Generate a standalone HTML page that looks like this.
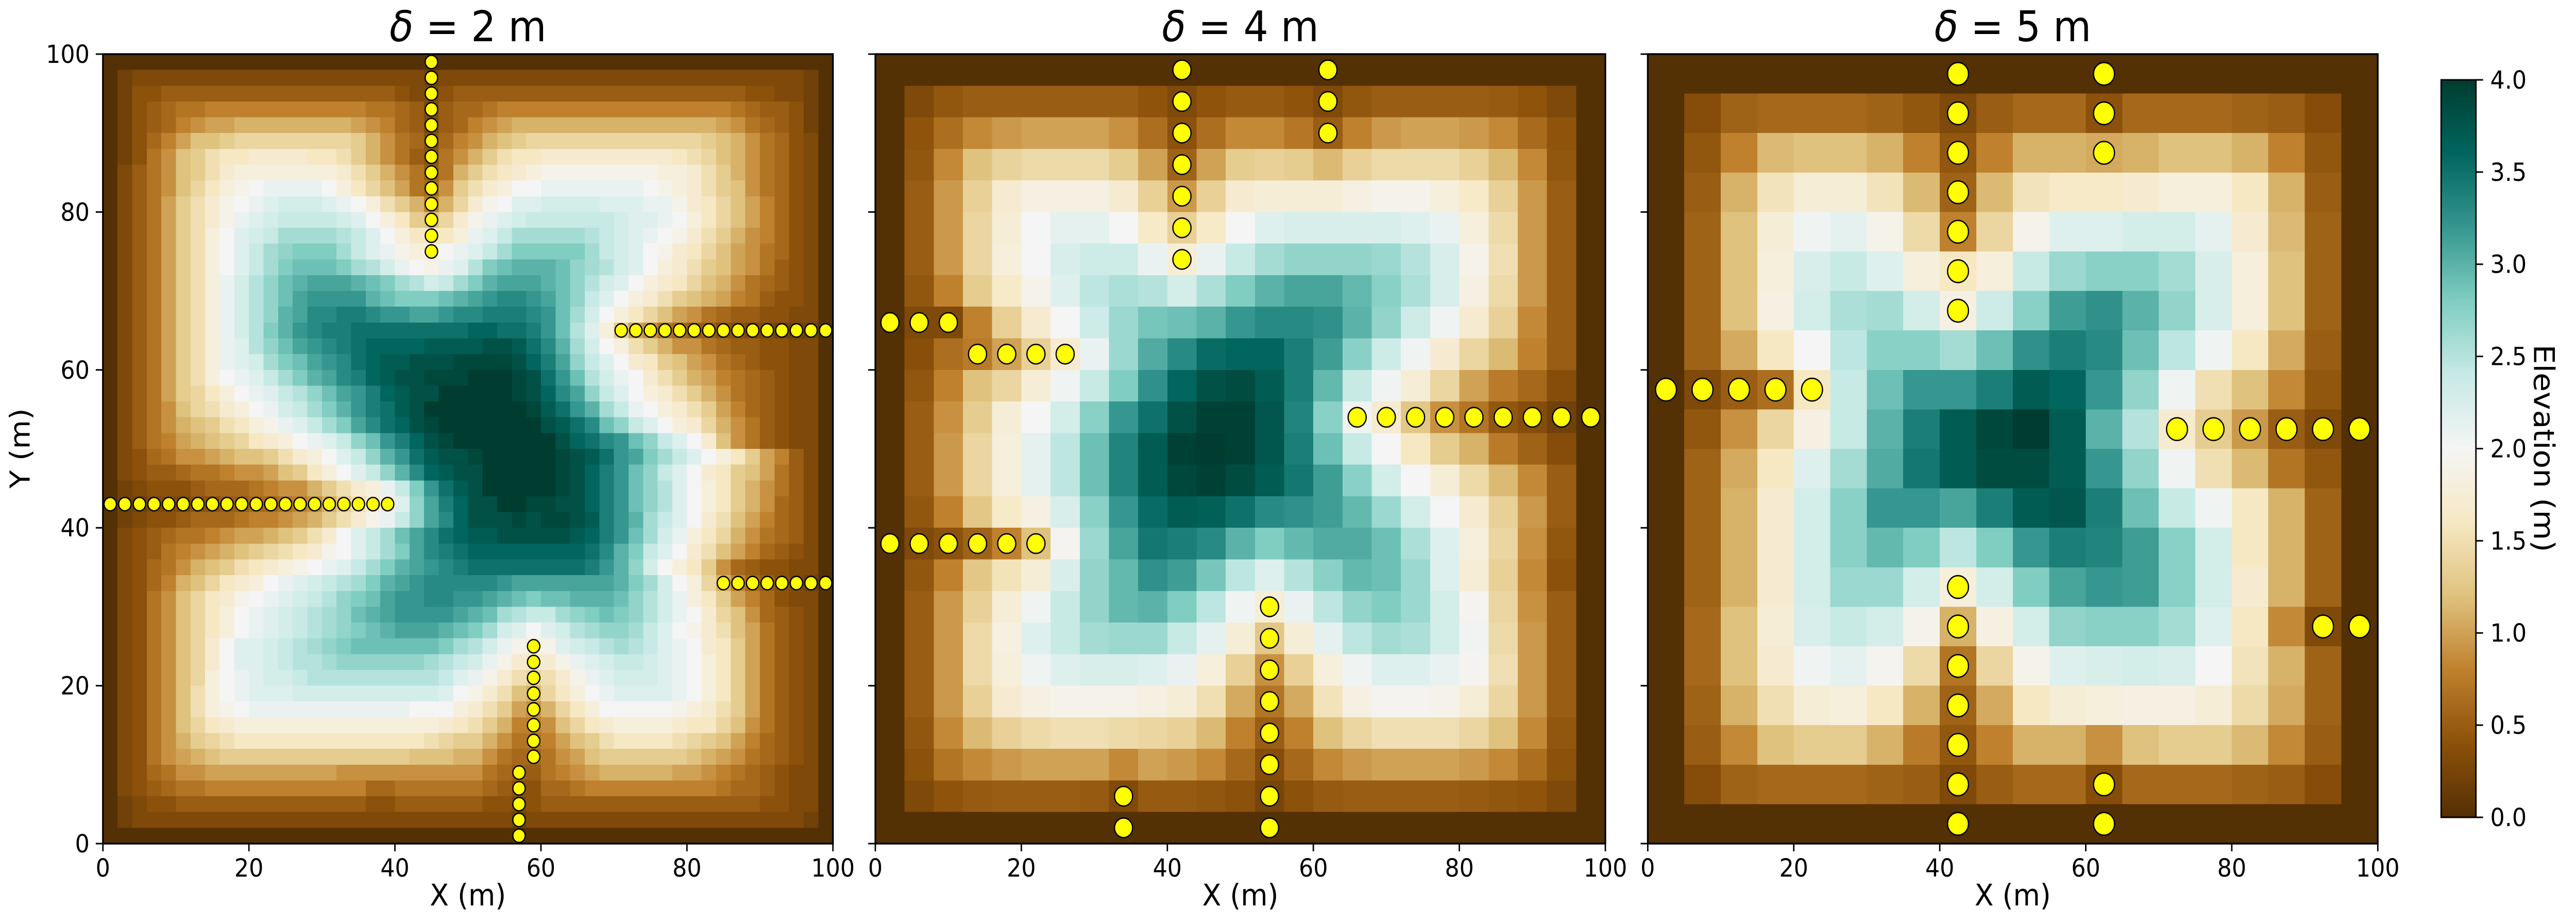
<!DOCTYPE html>
<html><head><meta charset="utf-8">
<style>
html,body{margin:0;padding:0;background:#fff;width:100%;height:100%;overflow:hidden;}
#fig{position:fixed;left:0;top:0;width:100vw;height:100vh;display:block;}
text{font-family:"DejaVu Sans","Liberation Sans",sans-serif;fill:#000;}
</style></head><body>
<svg id="fig" viewBox="0 0 5406 1793" preserveAspectRatio="none" xmlns="http://www.w3.org/2000/svg">
<defs>
<linearGradient id="cbgrad" x1="0" y1="1" x2="0" y2="0">
<stop offset="0" stop-color="#543005"/><stop offset="0.1" stop-color="#8c510a"/><stop offset="0.2" stop-color="#bf812d"/><stop offset="0.3" stop-color="#dfc27d"/><stop offset="0.4" stop-color="#f6e8c3"/><stop offset="0.5" stop-color="#f5f5f5"/><stop offset="0.6" stop-color="#c7eae5"/><stop offset="0.7" stop-color="#80cdc1"/><stop offset="0.8" stop-color="#35978f"/><stop offset="0.9" stop-color="#01665e"/><stop offset="1" stop-color="#003c30"/>
</linearGradient>
</defs>
</svg>
<script>
const panelTitles = ["2", "4", "5"];
const xTickLabels = ["0","20","40","60","80","100"];
const yTickLabels = ["0","20","40","60","80","100"];
const cbTickLabels = ["0.0","0.5","1.0","1.5","2.0","2.5","3.0","3.5","4.0"];
const cbTickValues = [0,0.5,1,1.5,2,2.5,3,3.5,4];

// Panel 1 elevation (units of 0.1 m), 50x50, top row first
const grid1 = [
[0,0,0,0,0,0,0,0,0,0,0,0,0,0,0,0,0,0,0,0,0,0,0,0,0,0,0,0,0,0,0,0,0,0,0,0,0,0,0,0,0,0,0,0,0,0,0,0,0,0],
[0,2,3,3,3,3,3,3,3,3,3,3,3,3,3,3,3,3,3,3,3,3,2,3,3,3,3,3,3,3,3,3,3,3,3,3,3,3,3,3,3,3,3,3,3,3,3,3,2,0],
[0,2,4,4,5,5,5,5,5,5,5,5,5,5,5,5,5,5,5,5,4,3,3,4,5,5,5,5,5,5,5,5,5,5,5,5,5,5,5,5,5,5,5,5,4,4,3,3,2,0],
[0,2,4,5,6,7,7,8,8,8,8,8,8,8,8,8,8,8,7,7,6,5,3,5,6,6,7,8,8,8,8,8,8,8,8,8,8,8,8,8,8,8,8,7,6,5,5,4,2,0],
[0,2,4,5,6,8,9,10,10,11,11,11,11,11,11,11,11,10,9,8,6,5,3,5,6,8,9,10,11,11,11,11,11,11,11,11,11,11,11,11,11,11,10,9,7,6,5,4,2,0],
[0,2,4,6,8,10,12,12,13,14,14,14,14,14,14,14,14,13,11,9,7,6,4,6,8,9,11,12,13,14,14,14,14,14,14,14,14,14,14,14,14,13,12,11,9,7,6,4,3,0],
[0,2,4,7,9,12,13,15,16,16,17,17,17,17,16,16,15,13,11,9,7,5,4,7,9,11,13,15,16,16,17,17,17,17,17,17,17,17,17,16,15,14,12,11,9,7,6,4,3,0],
[0,3,5,7,9,12,13,15,17,18,18,18,18,18,18,18,17,15,13,11,9,7,5,7,11,13,15,16,17,18,19,19,19,19,19,19,19,19,18,18,17,15,13,11,9,7,6,4,3,0],
[0,3,5,7,9,12,14,16,18,19,20,21,21,21,21,20,18,16,14,12,10,7,6,9,13,15,17,18,20,20,21,21,21,21,21,21,21,20,19,18,17,15,13,12,9,7,6,4,3,0],
[0,3,5,7,10,13,15,17,19,20,21,22,23,23,23,22,21,20,18,15,13,11,8,11,14,17,19,20,22,22,23,23,23,23,22,22,22,21,21,19,17,16,14,12,10,8,6,4,3,0],
[0,3,5,7,10,13,15,17,19,21,22,23,24,24,24,24,23,22,20,18,16,13,12,14,17,19,21,22,23,24,24,24,24,24,24,23,22,22,21,20,18,16,14,12,10,8,6,4,3,0],
[0,3,5,7,10,13,15,18,20,22,23,24,26,26,26,26,25,24,22,20,18,16,16,16,18,21,22,24,26,26,26,26,26,25,24,23,22,21,20,19,17,15,13,11,9,8,6,4,3,0],
[0,3,5,7,10,13,15,18,20,22,24,26,27,28,28,28,26,24,22,21,19,18,18,20,21,22,24,26,28,28,28,28,28,26,24,23,22,20,19,17,16,14,12,10,9,7,6,4,3,0],
[0,3,5,7,10,13,15,18,20,22,24,26,28,29,29,29,28,26,25,23,21,20,19,21,22,25,28,29,30,30,30,29,27,26,25,23,22,20,18,17,15,13,12,10,9,7,5,4,3,0],
[0,3,5,7,10,13,15,18,21,23,25,27,29,30,31,31,31,30,29,28,26,25,23,24,26,28,30,31,31,31,30,29,27,25,23,22,20,18,17,16,14,12,11,9,7,6,5,4,3,0],
[0,3,5,7,10,13,15,18,21,23,25,27,29,31,32,32,32,32,30,29,28,28,28,29,30,31,32,33,33,32,31,29,27,24,22,20,18,17,15,13,12,11,10,8,7,5,4,4,3,0],
[0,3,5,7,10,13,15,18,21,23,25,27,30,31,33,33,34,34,33,32,32,31,31,32,33,33,34,34,34,33,32,29,26,23,20,18,16,14,12,10,9,7,6,5,5,4,4,3,3,0],
[0,3,5,7,10,13,15,18,21,23,25,28,30,32,33,34,34,35,35,35,35,35,35,35,35,36,36,35,35,34,32,29,25,22,18,13,10,9,7,6,5,5,4,4,3,3,2,2,2,0],
[0,3,5,7,10,13,15,18,21,22,25,27,29,31,32,33,34,35,36,36,36,36,37,37,37,37,38,38,37,35,33,30,26,23,20,18,15,13,11,9,9,7,6,5,5,4,4,3,3,0],
[0,3,5,7,10,13,15,18,21,22,23,26,28,29,31,32,33,35,36,37,37,38,38,38,39,39,39,39,38,36,34,31,27,24,22,20,17,16,13,12,10,9,7,6,5,4,4,3,3,0],
[0,3,5,7,10,13,15,18,20,21,22,24,26,28,30,31,33,34,36,37,38,38,39,39,39,40,40,40,39,38,35,32,29,25,23,21,20,17,15,13,11,10,8,7,6,5,4,3,3,0],
[0,3,5,7,10,13,14,16,18,20,21,22,24,25,27,29,31,32,34,36,37,38,38,40,40,40,40,40,39,38,36,33,31,27,24,22,20,18,17,15,13,11,9,7,6,5,4,3,3,0],
[0,3,5,7,9,12,14,15,17,18,20,21,23,24,26,28,30,32,34,35,37,38,40,40,40,40,40,40,40,39,37,35,32,30,26,24,21,20,18,17,15,13,10,8,6,5,4,3,3,0],
[0,3,5,7,9,11,12,13,15,16,18,19,21,22,24,26,28,31,33,35,36,38,39,40,40,40,40,40,40,40,38,37,35,33,29,27,24,22,20,18,17,14,11,9,7,5,4,3,3,0],
[0,3,5,7,8,10,11,12,13,14,16,17,18,20,21,22,24,27,29,32,34,36,38,39,40,40,40,40,40,40,40,38,36,35,33,32,29,27,24,22,20,17,12,9,7,5,4,3,3,0],
[0,3,4,6,7,9,9,10,11,12,12,13,15,17,18,20,22,24,27,30,32,35,37,38,38,39,40,40,40,40,40,39,38,37,35,32,31,28,26,24,22,20,18,16,13,10,8,5,3,0],
[0,3,4,5,5,6,7,7,8,9,9,10,12,13,16,18,20,22,24,27,30,33,36,37,38,38,40,40,40,40,40,39,38,36,34,32,29,27,24,22,20,17,16,13,12,10,7,5,3,0],
[0,2,3,4,4,4,5,6,6,6,7,8,9,9,11,13,15,17,18,21,24,28,32,35,37,38,40,40,40,40,40,39,38,36,34,32,29,27,25,22,20,18,16,13,11,9,7,5,3,0],
[0,2,2,3,3,3,4,4,5,5,6,6,7,8,9,11,13,15,17,18,22,27,31,34,36,38,38,40,40,39,39,38,38,36,34,32,29,27,25,22,20,18,16,13,11,9,6,5,3,0],
[0,2,3,4,4,5,6,6,6,7,8,8,9,10,11,13,15,17,19,21,24,27,31,33,36,38,38,38,39,38,39,39,38,37,34,32,30,26,24,22,20,17,15,12,10,8,6,5,3,0],
[0,3,4,5,6,7,7,8,9,10,10,11,12,13,15,17,20,22,24,26,29,31,33,35,36,37,37,38,38,38,38,38,37,36,34,32,29,26,23,21,18,16,14,11,9,7,6,5,3,0],
[0,3,4,5,7,8,9,10,11,12,13,14,15,16,17,19,20,22,24,26,28,31,33,34,35,36,36,36,36,36,36,36,36,35,33,30,28,24,22,20,17,15,12,10,8,6,5,4,3,0],
[0,3,4,6,7,9,11,12,13,15,16,17,18,19,20,21,22,24,26,28,30,31,32,33,34,35,35,35,35,35,35,35,35,34,32,30,27,23,20,18,16,13,9,6,5,4,4,3,3,0],
[0,3,4,6,8,11,12,14,16,17,18,20,21,22,23,24,25,26,28,30,31,32,33,33,33,33,33,32,31,31,31,31,31,31,31,30,28,26,23,20,18,14,11,8,6,5,4,3,2,0],
[0,3,4,7,9,12,14,16,17,19,20,21,22,23,24,25,27,28,29,31,32,32,33,33,32,32,31,30,29,28,29,29,30,30,30,29,27,25,23,21,18,16,13,10,8,6,4,3,3,0],
[0,3,4,7,9,12,14,16,18,20,21,22,23,24,25,26,27,29,30,31,32,32,32,32,31,30,29,26,25,24,24,26,27,28,29,28,27,25,23,21,20,17,14,12,9,6,5,4,3,0],
[0,3,4,7,9,12,14,16,18,20,21,22,23,24,25,26,27,28,29,30,31,31,31,30,29,28,26,23,22,20,22,23,25,26,27,27,26,24,22,20,19,17,15,12,10,7,5,4,3,0],
[0,3,4,7,9,12,14,17,20,22,22,23,24,25,26,27,28,29,29,29,29,29,29,28,26,25,23,21,19,18,19,22,23,24,25,26,25,24,22,21,20,17,16,13,10,7,5,4,3,0],
[0,3,4,7,9,12,14,17,20,22,22,23,24,25,25,26,27,27,27,27,27,27,26,25,24,23,21,19,17,16,17,19,21,22,23,24,24,23,22,21,20,18,16,13,10,7,5,4,3,0],
[0,3,4,7,9,12,14,18,20,21,22,23,23,24,25,25,25,25,25,25,25,25,25,24,22,21,19,17,15,14,15,17,19,21,22,23,23,23,22,21,20,18,16,13,10,7,5,4,3,0],
[0,3,4,7,9,12,15,18,20,21,22,22,22,23,23,23,23,23,23,23,23,23,23,22,20,19,17,15,12,11,14,16,18,20,21,22,22,22,22,21,20,18,16,13,10,7,5,4,3,0],
[0,3,4,7,9,12,15,18,19,20,21,21,21,21,21,21,21,21,21,21,21,20,20,20,18,17,15,13,10,9,11,14,16,18,20,20,20,20,20,19,18,17,15,13,10,7,5,4,3,0],
[0,3,4,7,9,12,14,16,17,18,18,18,18,18,18,18,18,18,18,18,18,18,18,17,16,15,13,11,8,8,9,12,14,16,17,18,18,18,18,17,16,16,14,12,9,7,5,4,3,0],
[0,3,4,7,9,11,13,14,15,16,16,16,16,16,16,16,16,16,16,16,16,16,15,14,13,13,11,9,7,7,8,10,12,13,15,16,16,16,16,15,14,13,12,10,8,6,5,4,3,0],
[0,3,4,7,9,10,11,12,13,13,13,13,13,13,13,13,13,13,13,13,13,12,12,12,11,11,9,7,6,6,7,9,10,12,13,13,13,13,13,13,12,11,10,9,7,6,5,4,3,0],
[0,3,4,6,7,9,9,10,10,10,10,10,10,10,10,10,9,9,9,9,9,9,9,9,9,9,7,6,5,5,7,8,9,10,11,11,11,11,11,10,10,9,8,7,6,5,4,3,3,0],
[0,3,4,5,6,7,7,8,8,8,8,8,8,8,8,8,8,8,6,6,7,7,7,7,7,7,6,5,4,4,6,6,7,8,8,8,8,8,8,8,8,8,7,6,6,5,4,3,3,0],
[0,2,3,4,4,5,5,5,5,5,5,5,5,5,5,5,5,5,4,4,5,5,5,5,5,5,4,4,3,4,5,5,5,5,5,5,5,5,5,5,5,5,5,5,5,4,4,3,3,0],
[0,2,3,3,3,3,3,3,3,3,3,3,3,3,3,3,3,3,3,3,3,3,3,3,3,3,3,3,2,3,3,3,3,3,3,3,3,3,3,3,3,3,3,3,3,3,3,3,2,0],
[0,0,0,0,0,0,0,0,0,0,0,0,0,0,0,0,0,0,0,0,0,0,0,0,0,0,0,0,0,0,0,0,0,0,0,0,0,0,0,0,0,0,0,0,0,0,0,0,0,0]
];

// Panel 2 elevation (m), 25x25
const grid2 = [
[0,0,0,0,0,0,0,0,0,0,0,0,0,0,0,0,0,0,0,0,0,0,0,0,0],
[0,0.3,0.45,0.5,0.5,0.5,0.5,0.5,0.5,0.42,0.3,0.42,0.48,0.48,0.42,0.32,0.45,0.5,0.5,0.5,0.5,0.48,0.42,0.3,0],
[0,0.42,0.65,0.85,0.95,1.0,1.0,1.0,0.9,0.65,0.4,0.65,0.85,0.85,0.72,0.5,0.8,0.95,1.0,1.0,0.95,0.85,0.62,0.42,0],
[0,0.45,0.85,1.2,1.38,1.45,1.45,1.45,1.3,1.0,0.55,1.0,1.3,1.35,1.3,1.15,1.35,1.45,1.45,1.45,1.35,1.15,0.85,0.45,0],
[0,0.5,0.95,1.35,1.7,1.85,1.85,1.85,1.7,1.35,0.95,1.35,1.7,1.75,1.75,1.75,1.85,1.9,1.9,1.8,1.65,1.35,0.95,0.5,0],
[0,0.5,0.95,1.4,1.75,2.0,2.15,2.15,2.0,1.65,1.35,1.65,2.0,2.2,2.25,2.25,2.25,2.25,2.2,2.1,1.8,1.45,0.95,0.5,0],
[0,0.5,0.95,1.4,1.8,2.0,2.25,2.35,2.35,2.1,1.75,2.1,2.4,2.6,2.7,2.7,2.7,2.65,2.5,2.25,1.9,1.5,0.95,0.5,0],
[0,0.45,0.8,1.3,1.65,1.9,2.2,2.45,2.55,2.5,2.3,2.55,2.8,3.0,3.1,3.1,2.95,2.75,2.55,2.25,1.85,1.45,0.95,0.5,0],
[0,0.3,0.3,0.8,1.35,1.7,2.0,2.35,2.65,2.85,2.9,3.0,3.2,3.3,3.3,3.25,3.0,2.7,2.35,2.05,1.7,1.35,0.85,0.5,0],
[0,0.38,0.65,0.75,1.0,1.35,1.7,2.1,2.65,3.05,3.3,3.55,3.6,3.6,3.4,3.15,2.75,2.35,2.05,1.7,1.4,1.15,0.8,0.5,0],
[0,0.45,0.8,1.2,1.4,1.75,2.05,2.4,2.8,3.25,3.6,3.8,3.85,3.7,3.4,2.95,2.4,2.05,1.75,1.4,1.0,0.75,0.6,0.35,0],
[0,0.5,0.9,1.3,1.75,2.0,2.3,2.75,3.2,3.5,3.8,3.95,3.95,3.75,3.35,2.75,2.05,1.7,1.25,0.9,0.7,0.45,0.35,0.2,0],
[0,0.5,0.95,1.4,1.8,2.15,2.45,2.9,3.35,3.7,3.95,4.0,3.95,3.75,3.4,2.9,2.4,2.0,1.6,1.3,1.1,0.75,0.55,0.35,0],
[0,0.5,0.95,1.4,1.8,2.15,2.45,2.9,3.35,3.7,3.9,3.95,3.85,3.7,3.45,3.15,2.75,2.3,2.0,1.75,1.45,1.15,0.85,0.5,0],
[0,0.45,0.8,1.25,1.65,1.85,2.25,2.75,3.2,3.55,3.7,3.65,3.5,3.3,3.25,3.15,2.95,2.65,2.3,2.0,1.7,1.35,0.95,0.5,0],
[0,0.3,0.4,0.55,0.8,1.2,1.95,2.65,3.1,3.45,3.4,3.3,3.0,2.8,2.95,3.05,3.05,2.9,2.55,2.2,1.8,1.4,0.9,0.45,0],
[0,0.45,0.8,1.25,1.55,1.75,2.25,2.7,2.95,3.25,3.15,2.85,2.45,2.2,2.5,2.75,2.95,2.9,2.65,2.2,1.75,1.35,0.85,0.4,0],
[0,0.5,0.95,1.35,1.75,2.05,2.4,2.7,2.95,3.0,2.8,2.45,2.05,1.75,2.1,2.45,2.7,2.8,2.65,2.3,1.95,1.4,0.9,0.5,0],
[0,0.5,0.95,1.45,1.85,2.2,2.4,2.6,2.65,2.65,2.4,2.15,1.75,1.25,1.75,2.15,2.45,2.6,2.55,2.3,2.05,1.45,0.95,0.5,0],
[0,0.5,0.95,1.45,1.8,2.05,2.2,2.25,2.25,2.2,2.1,1.8,1.35,0.9,1.35,1.8,2.05,2.2,2.2,2.1,1.95,1.5,0.95,0.5,0],
[0,0.5,0.95,1.35,1.7,1.85,1.9,1.9,1.9,1.85,1.75,1.5,1.05,0.7,1.05,1.55,1.85,1.95,1.95,1.9,1.75,1.4,0.95,0.5,0],
[0,0.45,0.85,1.15,1.35,1.45,1.5,1.5,1.45,1.4,1.35,1.15,0.8,0.5,0.8,1.2,1.4,1.5,1.5,1.5,1.4,1.2,0.85,0.45,0],
[0,0.4,0.7,0.85,0.95,1.0,1.0,1.0,0.85,1.0,0.95,0.85,0.6,0.35,0.6,0.85,0.95,1.0,1.0,1.0,0.95,0.85,0.65,0.4,0],
[0,0.3,0.42,0.48,0.5,0.5,0.5,0.48,0.32,0.48,0.48,0.45,0.4,0.25,0.4,0.48,0.5,0.5,0.5,0.5,0.48,0.45,0.42,0.3,0],
[0,0,0,0,0,0,0,0,0,0,0,0,0,0,0,0,0,0,0,0,0,0,0,0,0]
];

// Panel 3 elevation (m), 20x20
const grid3 = [
[0,0,0,0,0,0,0,0,0,0,0,0,0,0,0,0,0,0,0,0],
[0,0.35,0.55,0.6,0.6,0.6,0.55,0.45,0.3,0.5,0.6,0.6,0.4,0.6,0.6,0.6,0.55,0.5,0.35,0],
[0,0.45,0.8,1.15,1.2,1.2,1.1,0.8,0.45,0.8,1.1,1.1,1.05,1.1,1.2,1.2,1.1,0.8,0.45,0],
[0,0.5,1.1,1.55,1.75,1.75,1.55,1.15,0.55,1.15,1.55,1.65,1.65,1.7,1.8,1.8,1.6,1.1,0.5,0],
[0,0.55,1.2,1.75,2.05,2.15,1.9,1.45,0.8,1.4,1.9,2.2,2.2,2.3,2.3,2.15,1.7,1.15,0.55,0],
[0,0.55,1.2,1.8,2.25,2.4,2.2,1.8,1.6,1.8,2.4,2.65,2.75,2.75,2.6,2.25,1.8,1.2,0.55,0],
[0,0.55,1.2,1.85,2.3,2.55,2.6,2.3,1.85,2.35,2.75,3.15,3.25,3.0,2.7,2.25,1.8,1.2,0.55,0],
[0,0.55,1.05,1.6,2.0,2.45,2.75,2.75,2.6,2.9,3.25,3.4,3.3,2.9,2.45,2.05,1.6,1.05,0.5,0],
[0,0.3,0.5,0.65,1.6,2.4,2.9,3.2,3.2,3.4,3.7,3.6,3.2,2.7,2.05,1.5,1.2,0.85,0.45,0],
[0,0.45,0.9,1.4,1.85,2.4,3.0,3.4,3.7,3.9,4.0,3.7,3.0,2.5,1.7,1.3,0.95,0.5,0.3,0],
[0,0.55,1.05,1.6,2.2,2.6,3.05,3.45,3.7,3.85,3.85,3.7,3.2,2.7,2.05,1.5,1.15,0.7,0.45,0],
[0,0.55,1.1,1.7,2.3,2.75,3.2,3.2,3.1,3.4,3.7,3.75,3.4,2.9,2.4,2.05,1.6,1.1,0.55,0],
[0,0.55,1.1,1.7,2.3,2.75,2.95,2.8,2.45,2.8,3.2,3.4,3.35,3.15,2.75,2.3,1.6,1.1,0.55,0],
[0,0.55,1.1,1.7,2.3,2.65,2.65,2.3,1.8,2.3,2.8,3.1,3.2,3.15,2.75,2.3,1.7,1.1,0.55,0],
[0,0.6,1.2,1.75,2.25,2.4,2.3,1.9,1.1,1.85,2.3,2.7,2.75,2.75,2.6,2.2,1.6,0.85,0.3,0],
[0,0.6,1.2,1.7,2.05,2.15,1.95,1.45,0.7,1.4,1.9,2.2,2.25,2.3,2.25,2.0,1.55,1.1,0.55,0],
[0,0.55,1.1,1.5,1.75,1.8,1.6,1.1,0.55,1.05,1.6,1.75,1.8,1.85,1.85,1.75,1.45,1.05,0.55,0],
[0,0.5,0.85,1.2,1.3,1.3,1.1,0.75,0.45,0.8,1.1,1.1,0.9,1.2,1.3,1.3,1.15,0.85,0.5,0],
[0,0.35,0.55,0.6,0.6,0.6,0.55,0.5,0.3,0.5,0.6,0.6,0.35,0.6,0.6,0.6,0.55,0.5,0.35,0],
[0,0,0,0,0,0,0,0,0,0,0,0,0,0,0,0,0,0,0,0]
];

// Sensor points (metres)
const pts1X = [45,45,45,45,45,45,45,45,45,45,45,45,45, 71,73,75,77,79,81,83,85,87,89,91,93,95,97,99, 1,3,5,7,9,11,13,15,17,19,21,23,25,27,29,31,33,35,37,39, 85,87,89,91,93,95,97,99, 59,59,59,59,59,59,59,59, 57,57,57,57,57];
const pts1Y = [75,77,79,81,83,85,87,89,91,93,95,97,99, 65,65,65,65,65,65,65,65,65,65,65,65,65,65,65, 43,43,43,43,43,43,43,43,43,43,43,43,43,43,43,43,43,43,43,43, 33,33,33,33,33,33,33,33, 11,13,15,17,19,21,23,25, 1,3,5,7,9];
const pts2X = [42,42,42,42,42,42,42, 62,62,62, 2,6,10, 14,18,22,26, 66,70,74,78,82,86,90,94,98, 2,6,10,14,18,22, 54,54,54,54,54,54,54,54, 34,34];
const pts2Y = [98,94,90,86,82,78,74, 98,94,90, 66,66,66, 62,62,62,62, 54,54,54,54,54,54,54,54,54, 38,38,38,38,38,38, 30,26,22,18,14,10,6,2, 6,2];
const pts3X = [42.5,42.5,42.5,42.5,42.5,42.5,42.5, 62.5,62.5,62.5, 2.5,7.5,12.5,17.5,22.5, 72.5,77.5,82.5,87.5,92.5,97.5, 92.5,97.5, 42.5,42.5,42.5,42.5,42.5,42.5,42.5, 62.5,62.5];
const pts3Y = [97.5,92.5,87.5,82.5,77.5,72.5,67.5, 97.5,92.5,87.5, 57.5,57.5,57.5,57.5,57.5, 52.5,52.5,52.5,52.5,52.5,52.5, 27.5,27.5, 32.5,27.5,22.5,17.5,12.5,7.5,2.5, 7.5,2.5];

const NS = "http://www.w3.org/2000/svg";
const svg = document.getElementById('fig');
const nodes = ["#543005","#8c510a","#bf812d","#dfc27d","#f6e8c3","#f5f5f5","#c7eae5","#80cdc1","#35978f","#01665e","#003c30"].map(h=>[parseInt(h.substr(1,2),16),parseInt(h.substr(3,2),16),parseInt(h.substr(5,2),16)]);
function cmap(v){
  const t=Math.max(0,Math.min(1,v/4))*10; const i=Math.min(9,Math.floor(t)); const f=t-i;
  const a=nodes[i],b=nodes[i+1];
  return 'rgb('+a.map((c,k)=>Math.round(c+(b[k]-c)*f)).join(',')+')';
}
function mk(tag, attrs, parent){ const e=document.createElementNS(NS,tag); for(const k in attrs) e.setAttribute(k,attrs[k]); (parent||svg).appendChild(e); return e; }

const PX=[216,1837,3458], PY=105, PS=1532;
const grids=[grid1.map(r=>r.map(v=>v/10)), grid2, grid3];
const ptsX=[pts1X,pts2X,pts3X], ptsY=[pts1Y,pts2Y,pts3Y], rads=[13,19,22];

for(let p=0;p<3;p++){
  const x0=PX[p];
  const xs=v=>x0+v/100*PS, ys=v=>PY+PS-v/100*PS;
  const g=mk('g',{});
  
  
  const hm=mk('g',{'shape-rendering':'crispEdges'},g);
  
  
  const G=grids[p], n=G.length, cs=100/n;
  for(let r=0;r<n;r++) for(let c=0;c<n;c++){
    const x=xs(c*cs), y=ys(100-r*cs);
    const e=mk('rect',{x:x.toFixed(2),y:y.toFixed(2),width:(PS/n+0.6).toFixed(2),height:(PS/n+0.6).toFixed(2),fill:cmap(G[r][c])},hm);
    
    
  }
  const pg=mk('g',{},g);
  
  
  for(let i=0;i<ptsX[p].length;i++){
    const c=mk('circle',{cx:xs(ptsX[p][i]),cy:ys(ptsY[p][i]),r:rads[p],fill:'#ffff00',stroke:'#000','stroke-width':2.6},pg);
    
    
  }
  const fr=mk('rect',{x:x0,y:PY,width:PS,height:PS,fill:'none',stroke:'#000','stroke-width':3.5},g);
  
  
  for(let i=0;i<xTickLabels.length;i++){
    const v=+xTickLabels[i];
    const t=mk('line',{x1:xs(v),x2:xs(v),y1:PY+PS,y2:PY+PS+15,stroke:'#000','stroke-width':3},g);
    
    
    const l=mk('text',{x:xs(v),y:PY+PS+64,'font-size':48,'text-anchor':'middle'},g);
    l.textContent=xTickLabels[i];
    
    
  }
  for(let i=0;i<yTickLabels.length;i++){
    const v=+yTickLabels[i];
    const t=mk('line',{x1:x0-15,x2:x0,y1:ys(v),y2:ys(v),stroke:'#000','stroke-width':3},g);
    
    
    if(p===0){
      const l=mk('text',{x:x0-28,y:ys(v)+17,'font-size':48,'text-anchor':'end'},g);
      l.textContent=yTickLabels[i];
      
      
    }
  }
  const xl=mk('text',{x:x0+PS/2,y:1757,'font-size':58,'text-anchor':'middle'},g);
  xl.textContent='X (m)';
  
  
  const tt=mk('text',{x:x0+PS/2,y:80,'font-size':82,'text-anchor':'middle'},g);
  const ts=mk('tspan',{'font-style':'italic'},tt);
  ts.textContent='δ';
  tt.appendChild(document.createTextNode(' = '+panelTitles[p]+' m'));
  
  
}
const yl=mk('text',{x:0,y:0,'font-size':58,'text-anchor':'middle',transform:'translate(62,870) rotate(-90)'});
yl.textContent='Y (m)';



const CB={x:5123,y:155,w:73,h:1431};
const cb=mk('g',{});


const cr=mk('rect',{x:CB.x,y:CB.y,width:CB.w,height:CB.h,fill:'url(#cbgrad)',stroke:'#000','stroke-width':3},cb);


for(let i=0;i<cbTickValues.length;i++){
  const y=CB.y+CB.h-cbTickValues[i]/4*CB.h;
  const t=mk('line',{x1:CB.x+CB.w,x2:CB.x+CB.w+15,y1:y,y2:y,stroke:'#000','stroke-width':3},cb);
  
  
  const l=mk('text',{x:CB.x+CB.w+30,y:y+17,'font-size':48},cb);
  l.textContent=cbTickLabels[i];
  
  
}
const cl=mk('text',{x:0,y:0,'font-size':60,'text-anchor':'middle',transform:'translate(5318,870) rotate(90)'},cb);
cl.textContent='Elevation (m)';


</script>
</body></html>
